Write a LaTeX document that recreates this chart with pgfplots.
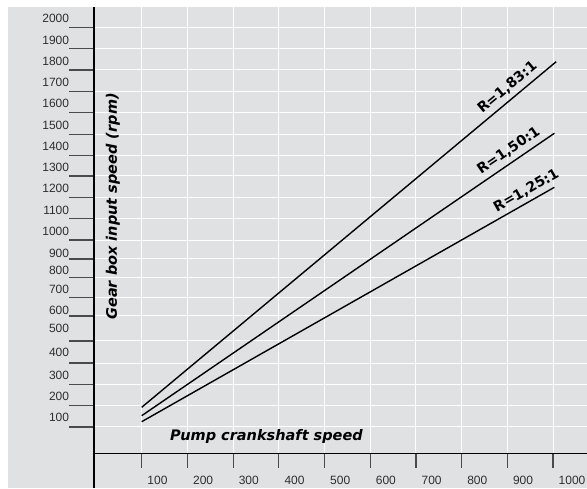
\documentclass[border=0pt]{standalone}
\usepackage{fontspec}
\setmainfont{Liberation Sans}
\newfontfamily\labfont{DejaVu Sans}
\usepackage{pgfplots}
\pgfplotsset{compat=1.18}
\definecolor{bgc}{HTML}{E0E1E3}
\definecolor{tickc}{HTML}{4A4A4A}
\definecolor{numc}{HTML}{2E2E2E}

\begin{document}
\begin{tikzpicture}
\useasboundingbox (-94pt,0pt) rectangle (493pt,488pt);
\fill[bgc] (-86pt,0pt) rectangle (493pt,481pt);
\begin{axis}[
    at={(0pt,0pt)}, anchor=south west,
    scale only axis, width=493pt, height=481pt,
    xmin=-4.4, xmax=1074.4,
    ymin=-234.4, ymax=2053.7,
    axis x line*=bottom, axis y line*=left,
    x axis line style={draw=none},
    y axis line style={line width=1.6pt, black},
    xtick={100,200,...,1000},
    xtick style={draw=none},
    xtick align=inside,
    xticklabel style={anchor=west, inner sep=0pt, xshift=5.5pt, yshift=8pt},
    /pgf/number format/assume math mode=true,
    /pgf/number format/1000 sep={},
    ytick={56,159,257,360,465,584,673,766,855,945,1047,1148,1250,1348,1448,1551,1651,1754,1857,1955},
    yticklabels={},
    ytick align=outside,
    major tick length=24.7pt,
    ytick style={tickc, line width=1.2pt},
    extra y ticks={100,203,302,409,525,612,711,799,882,988,1088,1189,1289,1392,1492,1596,1695,1797,1897,2000},
    extra y tick labels={100,200,300,400,500,600,700,800,900,1000,1100,1200,1300,1400,1500,1600,1700,1800,1900,2000},
    extra y tick style={tick style={draw=none}, grid=none},
    yticklabel style={anchor=east, inner sep=0pt},
    ymajorgrids,
    major grid style={white, line width=1pt},
    tick label style={font=\fontsize{12}{14}\selectfont, text=numc},
]
% vertical grid lines stop at the x axis
\pgfplotsinvokeforeach{100,200,...,1000}{
    \draw[white, line width=1pt] (axis cs:#1,-69.4) -- (axis cs:#1,2053.7);
    \draw[tickc, line width=1.2pt] (axis cs:#1,-69.4) -- (axis cs:#1,-139.3);
}
\draw[black, line width=1.6pt] (axis cs:-4.4,-69.4) -- (axis cs:1074.4,-69.4);

\addplot[black, line width=1.4pt] coordinates {(100,149.5) (1007,1793.5)}
    node[pos=0.90, sloped, above, inner sep=4.5pt, font=\labfont\bfseries\fontsize{14}{16}\selectfont] {R=1,83:1};
\addplot[black, line width=1.4pt] coordinates {(100,109.5) (1003,1453)}
    node[pos=0.905, sloped, above, inner sep=4.5pt, font=\labfont\bfseries\fontsize{14}{16}\selectfont] {R=1,50:1};
\addplot[black, line width=1.4pt] coordinates {(100,81) (1003,1196)}
    node[pos=0.945, sloped, above, inner sep=4pt, font=\labfont\bfseries\fontsize{14}{16}\selectfont] {R=1,25:1};

\node[rotate=90, font=\labfont\bfseries\itshape\fontsize{14.5}{16}\selectfont, inner sep=0pt]
    at (axis cs:37,1105) {Gear box input speed (rpm)};
\node[anchor=base west, font=\labfont\bfseries\itshape\fontsize{14.5}{16}\selectfont, inner sep=0pt]
    at (axis cs:162,-10.8) {Pump crankshaft speed};
\end{axis}
\end{tikzpicture}
\end{document}
